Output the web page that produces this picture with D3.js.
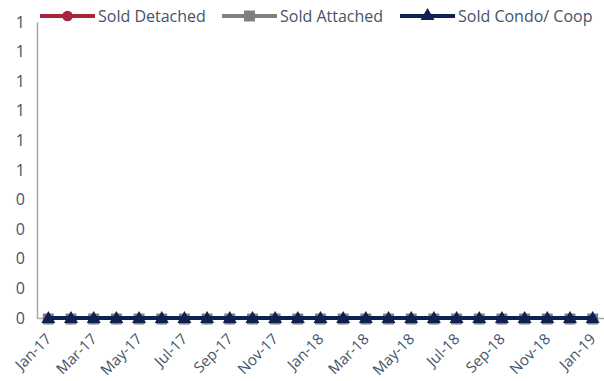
<!DOCTYPE html>
<html>
<head>
<meta charset="utf-8">
<script src="https://cdn.jsdelivr.net/npm/d3@7"></script>
<style>
  html, body { margin: 0; padding: 0; background: #fff; }
  svg text { font-family: "Open Sans", "Noto Sans", sans-serif; fill: #44546a; }
</style>
</head>
<body>
<svg id="chart" width="604" height="381"></svg>
<script>
// Monthly sales counts, Jan-17 through Jan-19
const months = ["Jan-17","Feb-17","Mar-17","Apr-17","May-17","Jun-17","Jul-17","Aug-17","Sep-17","Oct-17","Nov-17","Dec-17",
                "Jan-18","Feb-18","Mar-18","Apr-18","May-18","Jun-18","Jul-18","Aug-18","Sep-18","Oct-18","Nov-18","Dec-18","Jan-19"];
const soldDetached = [0,0,0,0,0,0,0,0,0,0,0,0,0,0,0,0,0,0,0,0,0,0,0,0,0];
const soldAttached = [0,0,0,0,0,0,0,0,0,0,0,0,0,0,0,0,0,0,0,0,0,0,0,0,0];
const soldCondoCoop = [0,0,0,0,0,0,0,0,0,0,0,0,0,0,0,0,0,0,0,0,0,0,0,0,0];
const yTicks = [0,0.1,0.2,0.3,0.4,0.5,0.6,0.7,0.8,0.9,1];

const series = [
  { name: "Sold Detached", values: soldDetached, color: "#a6253a", symbol: d3.symbolCircle, size: 90 },
  { name: "Sold Attached", values: soldAttached, color: "#7f7f7f", symbol: d3.symbolSquare, size: 120 },
  { name: "Sold Condo/ Coop", values: soldCondoCoop, color: "#0e2150", symbol: d3.symbolTriangle, size: 85 }
];

const svg = d3.select("#chart");
const margin = { left: 37, right: 0, top: 22, bottom: 63 };
const W = 604, H = 381;

const x = d3.scaleBand().domain(months).range([margin.left, W - margin.right]);
const y = d3.scaleLinear().domain([0, 1]).range([H - margin.bottom, margin.top]);

// Y axis
const yAxis = svg.append("g").attr("transform", `translate(${margin.left},0)`)
  .call(d3.axisLeft(y).tickValues(yTicks).tickFormat(d3.format(".0f")).tickSize(0).tickPadding(12));
yAxis.select(".domain").attr("stroke", "#a6a6a6").attr("stroke-width", 1.5);
yAxis.selectAll("text").attr("font-size", 16);

// X axis
const xAxis = svg.append("g").attr("transform", `translate(0,${y(0)})`)
  .call(d3.axisBottom(x).tickValues(months.filter((m, i) => i % 2 === 0)).tickSize(0).tickPadding(0));
xAxis.select(".domain").attr("stroke", "#a6a6a6").attr("stroke-width", 1.5);
xAxis.selectAll("text")
  .attr("font-size", 15)
  .attr("text-anchor", "end")
  .attr("dy", 0)
  .attr("transform", "translate(4,22) rotate(-45)");

const cx = m => x(m) + x.bandwidth() / 2;

// Series lines and markers
series.forEach(s => {
  const line = d3.line().x((v, i) => cx(months[i])).y(v => y(v));
  svg.append("path").datum(s.values)
    .attr("d", line).attr("fill", "none")
    .attr("stroke", s.color).attr("stroke-width", 4);
  svg.append("g").selectAll("path").data(s.values).join("path")
    .attr("transform", (v, i) => `translate(${cx(months[i])},${y(v) + 1})`)
    .attr("d", d3.symbol().type(s.symbol).size(s.size))
    .attr("fill", s.color);
});

// Legend
const legendX = [40, 222, 400];
series.forEach((s, i) => {
  const g = svg.append("g").attr("transform", `translate(${legendX[i]},16)`);
  g.append("line").attr("x1", 0).attr("x2", 55).attr("y1", 0).attr("y2", 0)
    .attr("stroke", s.color).attr("stroke-width", 4);
  g.append("path").attr("transform", "translate(27.5,0)")
    .attr("d", d3.symbol().type(s.symbol).size(s.size)).attr("fill", s.color);
  g.append("text").attr("x", 58).attr("y", 0).attr("dy", "0.35em")
    .attr("font-size", 16).text(s.name);
});
</script>
</body>
</html>
